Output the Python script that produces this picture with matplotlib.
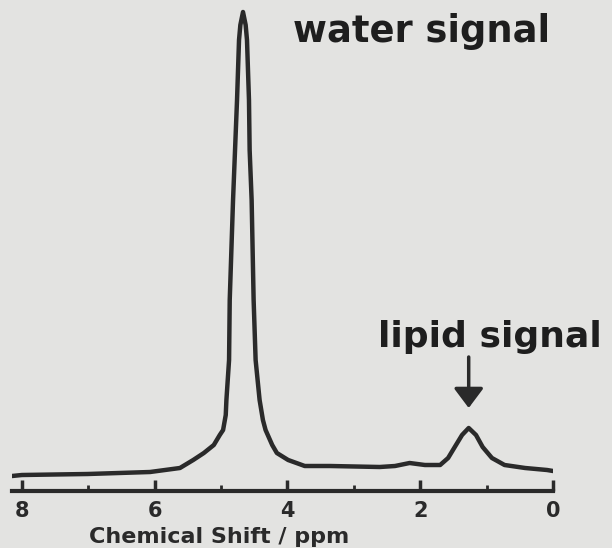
import numpy as np
import matplotlib
matplotlib.use("Agg")
import matplotlib.pyplot as plt
from matplotlib.ticker import FixedLocator

# Spectrum (chemical shift in ppm, intensity in arbitrary units)
ppm = [8.15, 8.00, 7.01, 6.07, 5.62, 5.42, 5.26, 5.11, 5.02, 4.97, 4.93, 4.92,
       4.88, 4.87, 4.82, 4.79, 4.76, 4.73, 4.71, 4.67, 4.63, 4.61, 4.58, 4.57,
       4.54, 4.51, 4.48, 4.42, 4.37, 4.33, 4.23, 4.16, 3.99, 3.74, 3.36, 2.61,
       2.38, 2.16, 1.93, 1.70, 1.58, 1.48, 1.37, 1.27, 1.16, 1.06, 0.92, 0.73,
       0.42, 0.09, 0.00]
intensity = [15, 16, 17, 19, 23, 31, 38, 46, 56, 61, 76, 91,
             131, 191, 291, 341, 391, 451, 466, 479, 466, 451, 391, 341,
             291, 191, 131, 91, 71, 61, 46, 38, 31, 25, 25, 24,
             25, 28, 26, 26, 33, 44, 56, 63, 56, 44, 33, 26,
             23, 21, 20]

major_ticks = [8, 6, 4, 2, 0]
minor_ticks = [7, 5, 3, 1]
water_label = "water signal"
lipid_label = "lipid signal"
lipid_ppm = 1.27

bg = '#e3e3e1'
ink = '#2a2a2a'

fig = plt.figure(figsize=(6.12, 5.48), dpi=100, facecolor=bg)
ax = fig.add_axes([12 / 612, 57 / 548, 541 / 612, 491 / 548])
ax.set_facecolor(bg)

ax.plot(ppm, intensity, color=ink, lw=3.2, solid_joinstyle='round',
        solid_capstyle='round')

ax.set_xlim(8.15, 0)
ax.set_ylim(0, 491)

for s in ['top', 'left', 'right']:
    ax.spines[s].set_visible(False)
ax.spines['bottom'].set_linewidth(3)
ax.spines['bottom'].set_color(ink)
ax.set_yticks([])

ax.xaxis.set_major_locator(FixedLocator(major_ticks))
ax.xaxis.set_minor_locator(FixedLocator(minor_ticks))
ax.set_xticklabels([str(t) for t in major_ticks])
ax.tick_params(axis='x', which='major', direction='in', length=8, width=2.5,
               color=ink, pad=7, labelsize=15, labelcolor=ink)
ax.tick_params(axis='x', which='minor', direction='in', length=4, width=2,
               color=ink)
for lab in ax.get_xticklabels():
    lab.set_fontweight('bold')

ax.set_xlabel("Chemical Shift / ppm", fontsize=16, fontweight='bold',
              color=ink, family='DejaVu Sans')
ax.xaxis.set_label_coords(0.383, -0.094)
ax.xaxis.label.set_va('center')

ax.text(3.92, 449, water_label, fontsize=26.5, fontweight='bold', color='#1e1e1e',
        ha='left', va='baseline')
ax.text(2.64, 144, lipid_label, fontsize=26, fontweight='bold', color='#1e1e1e',
        ha='left', va='baseline')

ax.annotate("", xy=(lipid_ppm, 83), xytext=(lipid_ppm, 134),
            arrowprops=dict(arrowstyle='-|>,head_length=0.6,head_width=0.45',
                            mutation_scale=20, lw=2.5, color=ink,
                            shrinkA=0, shrinkB=0))

fig.savefig("out.png", dpi=100, facecolor=bg)
